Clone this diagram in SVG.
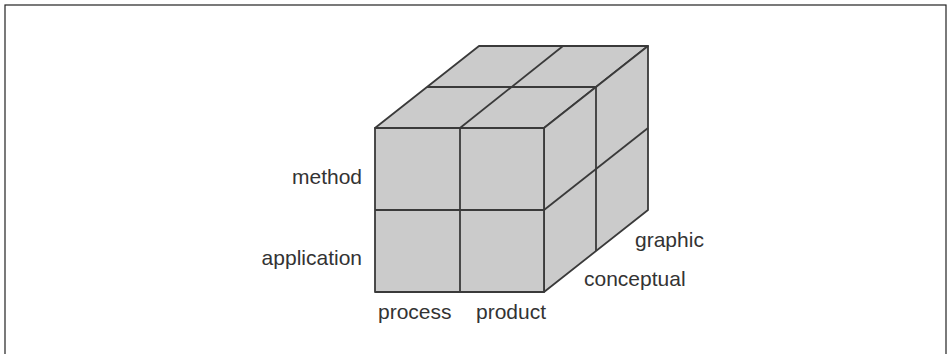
<svg xmlns="http://www.w3.org/2000/svg" width="948" height="354" viewBox="0 0 948 354">
<style>
.face{fill:#cbcbcb;stroke:#3a3a3a;stroke-width:1.8;stroke-linejoin:round}
.ln{stroke:#3a3a3a;stroke-width:1.8;fill:none}
.lbl{font-family:"Liberation Sans",Arial,sans-serif;font-size:21px;fill:#333}
</style>
<rect x="5" y="5" width="941" height="360" fill="none" stroke="#222" stroke-width="1.2"/>
<g id="cube">
<polygon class="face" points="375,128 479,46 648,46 544,128"/>
<polygon class="face" points="544,128 648,46 648,210 544,292"/>
<rect class="face" x="375" y="128" width="169" height="164"/>
<g id="grid">
<line class="ln" x1="460" y1="128" x2="460" y2="292"/>
<line class="ln" x1="375" y1="210" x2="544" y2="210"/>
<line class="ln" x1="460" y1="128" x2="563" y2="46"/>
<line class="ln" x1="427" y1="87" x2="596" y2="87"/>
<line class="ln" x1="596" y1="87" x2="596" y2="251"/>
<line class="ln" x1="544" y1="210" x2="648" y2="128"/>
</g>
</g>
<g id="labels">
<text class="lbl" x="362" y="184" text-anchor="end">method</text>
<text class="lbl" x="362" y="265" text-anchor="end">application</text>
<text class="lbl" x="378" y="319">process</text>
<text class="lbl" x="476" y="319">product</text>
<text class="lbl" x="635" y="247">graphic</text>
<text class="lbl" x="584" y="286">conceptual</text>
</g>
</svg>
